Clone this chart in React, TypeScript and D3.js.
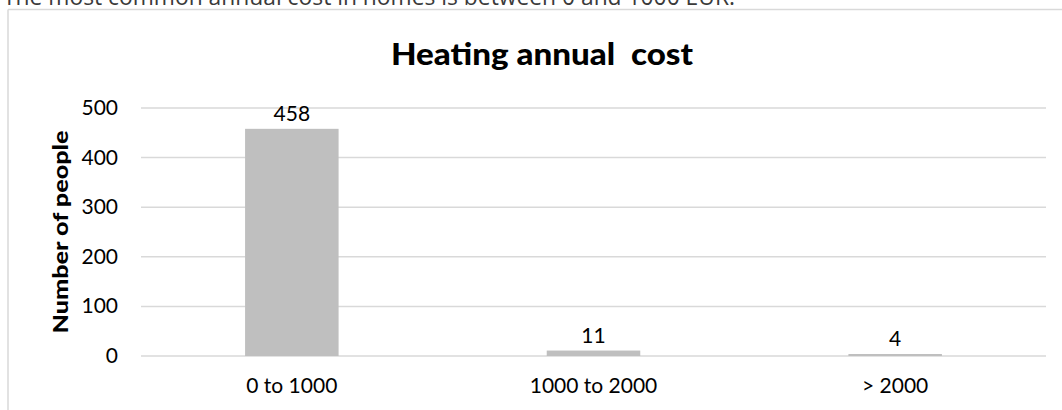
import React from "react";
import * as d3 from "d3";

const categories = ["0 to 1000", "1000 to 2000", "> 2000"];
const values = [458, 11, 4];
const yTicks = [0, 100, 200, 300, 400, 500];
const title = "Heating annual  cost";
const yTitle = "Number of people";
const caption = "The most common annual cost in homes is between 0 and 1000 EUR.";

const W = 1062;
const H = 410;
const plot = { left: 141, right: 1046, top: 108, bottom: 356 };
const FONT = "Lato, Calibri, 'Liberation Sans', sans-serif";

export default function App() {
  const x = d3
    .scaleBand<string>()
    .domain(categories)
    .range([plot.left, plot.right])
    .paddingInner(0.69)
    .paddingOuter(0.345);
  const y = d3.scaleLinear().domain([0, 500]).range([plot.bottom, plot.top]);
  const band = d3.scaleBand<string>().domain(categories).range([plot.left, plot.right]);

  return (
    <div style={{ position: "absolute", left: 0, top: 0, width: W, height: H, overflow: "hidden", background: "#fff" }}>
      <svg width={W} height={H} style={{ display: "block" }}>
        <rect x={0} y={0} width={W} height={H} fill="#fff" />
        <text
          x={3}
          y={5}
          fontFamily="'Open Sans', sans-serif"
          fontSize={23}
          fill="#3a3a3a"
          textLength={732}
          lengthAdjust="spacingAndGlyphs"
        >
          {caption}
        </text>
        {/* frame */}
        <line x1={8} x2={W + 2} y1={9.5} y2={9.5} stroke="#d9d9d9" strokeWidth={1.5} />
        <line x1={8} x2={8} y1={9.5} y2={H + 2} stroke="#d9d9d9" strokeWidth={1.5} />
        {/* title */}
        <text
          x={542}
          y={65}
          textAnchor="middle"
          fontFamily={FONT}
          fontWeight="900"
          fontSize={30}
          fill="#000"
          style={{ whiteSpace: "pre" }}
          textLength={302}
          lengthAdjust="spacingAndGlyphs"
        >
          {title}
        </text>
        {/* gridlines */}
        {yTicks.map((t) => (
          <line
            key={t}
            x1={plot.left}
            x2={plot.right}
            y1={y(t)}
            y2={y(t)}
            stroke="#d9d9d9"
            strokeWidth={1.5}
          />
        ))}
        {/* y tick labels */}
        {yTicks.map((t) => (
          <text
            key={"l" + t}
            x={118}
            y={y(t) + 7}
            textAnchor="end"
            fontFamily={FONT}
            fontSize={21}
            fill="#000"
          >
            {t}
          </text>
        ))}
        {/* y title */}
        <text
          transform={`translate(68, 232) rotate(-90)`}
          textAnchor="middle"
          fontFamily={FONT}
          fontWeight="900"
          fontSize={21}
          fill="#000"
          textLength={203}
          lengthAdjust="spacingAndGlyphs"
        >
          {yTitle}
        </text>
        {/* bars */}
        {categories.map((c, i) => (
          <rect
            key={c}
            x={x(c)}
            y={y(values[i])}
            width={x.bandwidth()}
            height={y(0) - y(values[i])}
            fill="#bfbfbf"
          />
        ))}
        {/* value labels */}
        {categories.map((c, i) => (
          <text
            key={"v" + c}
            x={(x(c) as number) + x.bandwidth() / 2}
            y={y(values[i]) - 8}
            textAnchor="middle"
            fontFamily={FONT}
            fontSize={21}
            fill="#000"
          >
            {values[i]}
          </text>
        ))}
        {/* x labels */}
        {categories.map((c) => (
          <text
            key={"x" + c}
            x={(band(c) as number) + band.bandwidth() / 2}
            y={393}
            textAnchor="middle"
            fontFamily={FONT}
            fontSize={21}
            fill="#000"
          >
            {c}
          </text>
        ))}
      </svg>
    </div>
  );
}
